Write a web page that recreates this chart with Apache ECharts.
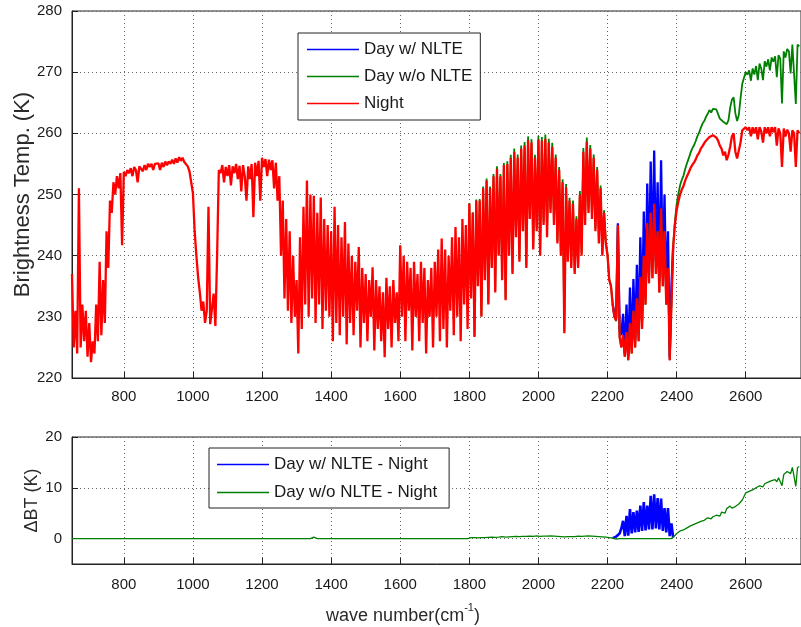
<!DOCTYPE html>
<html>
<head>
<meta charset="utf-8">
<script src="https://cdn.jsdelivr.net/npm/echarts@6/dist/echarts.min.js"></script>
<style>
html,body{margin:0;padding:0;background:#fff;}
#chart{width:801px;height:627px;}
</style>
</head>
<body>
<div id="chart"></div>
<script>
// ---- data ----
const wnStart = 650;     // cm^-1, first sample
const wnStep = 5;        // cm^-1 between samples
// Night brightness temperature (K), 650 .. 2755 cm^-1
const nightBT = [
  237, 225, 231, 224, 251, 225, 232, 226, 231, 223.5,
  229, 222.6, 226, 224, 232, 226, 239, 227, 236, 229,
  244, 238, 249, 247, 252, 250, 253, 251, 253.5, 241.7,
  253.7, 253, 254, 253.5, 254.3, 253, 254.5, 254, 252, 254.6,
  254.5, 253.8, 254.8, 254, 255, 254.5, 255, 254, 255, 254.8,
  255.1, 254, 255.2, 254.5, 255.4, 254.8, 255.4, 255, 255.7, 255,
  255.9, 255.2, 256.1, 255.5, 256, 255.3, 255.2, 254.6, 253.8, 252,
  250.2, 244, 240, 236.5, 234, 231, 232.5, 229, 231, 248,
  228.8, 229, 233.8, 228.5, 240, 254, 253.5, 254.8, 252, 254.5,
  253, 254.8, 251.5, 254.6, 253.5, 255, 252.5, 254.7, 250.5, 254.8,
  253, 249, 254.6, 252.5, 255, 246.3, 255.2, 253, 255.5, 249,
  256, 254.5, 255.8, 253, 255.7, 254, 255.6, 251, 255.2, 249,
  253, 240, 249, 233, 246, 231, 244, 229, 240, 230,
  236, 224, 243, 228, 248, 232, 252.3, 230, 250, 233,
  249.8, 229, 247, 232, 249.5, 228, 246, 231, 245, 230,
  244, 226, 248, 229, 245, 227, 243, 230, 245.5, 225.5,
  242, 229, 240, 227, 239, 231, 241.4, 225, 238, 229,
  237, 226, 236, 230, 238.1, 224.5, 236, 228, 235, 226,
  234, 223.4, 236.4, 228, 235, 225, 236, 229, 234, 226,
  241.7, 230, 240, 226, 239, 231, 238, 224.5, 239, 230,
  237, 226, 239, 229, 238, 224, 236, 230, 238, 225,
  239, 230, 241, 226, 242.8, 228, 241, 225, 240, 231,
  243, 227, 244.7, 230, 243, 226, 246, 232, 245, 228,
  248.5, 233, 247, 226.7, 249, 235, 249, 230, 251, 236,
  252.3, 232, 251, 238, 253, 234, 254.2, 240, 253, 236,
  254.8, 232.7, 255, 240, 256, 237, 257, 243, 256, 239,
  257.5, 244, 258, 238, 258.9, 246, 258.5, 241, 256, 244,
  259, 240, 258.8, 245, 259.1, 243, 258.5, 247, 257.8, 245,
  256, 242, 254, 240, 252, 227.3, 251.2, 239, 249, 238,
  248.5, 237, 246, 238, 250, 240, 257, 245, 258.6, 247,
  257.5, 246, 256, 244, 254, 242, 251, 240, 247, 242,
  240, 236, 235, 232, 230, 229.4, 245, 226.7, 225, 227,
  223.5, 227.5, 222.9, 229, 224, 231, 225, 233, 226, 236.5,
  228, 240, 232, 245.3, 235.5, 247, 236.3, 248.5, 237, 244,
  234, 247.7, 235, 244, 232, 238, 222.9, 232, 241.4, 245,
  247.4, 248.8, 250, 250.8, 251.4, 252.3, 253, 253.6, 254.3, 254.8,
  255.2, 255.7, 256.4, 256.8, 257.5, 257.9, 258.4, 258.8, 259.1, 259.4,
  259.5, 259.7, 259.6, 259.3, 258.8, 258, 257.5, 256.4, 257, 255.6,
  256.5, 257.8, 259.5, 260, 257, 255.9, 256.2, 258.5, 260.5, 260.8,
  261, 260.5, 261, 259.5, 261, 260, 261, 259, 261, 260.3,
  258.5, 261, 260, 261, 259.5, 261, 260.2, 261, 258, 260.8,
  260, 254.5, 260.8, 259.5, 260.6, 260, 257, 260.5, 260, 254.5,
  260.5, 260
];
// Day w/o NLTE minus Night (K): flat part, then sampled from 1800 cm^-1
const deltaFlat = [[650, 0], [1340, 0], [1350, 0.3], [1360, 0], [1795, 0]];
const noNlteStart = 1800;
const dayNoNlteDelta = [
  0.1, 0.2, 0.1, 0.2, 0.2, 0.15, 0.25, 0.2, 0.3, 0.2,
  0.3, 0.25, 0.3, 0.3, 0.35, 0.25, 0.4, 0.3, 0.35, 0.4,
  0.35, 0.3, 0.45, 0.35, 0.5, 0.4, 0.5, 0.45, 0.55, 0.4,
  0.5, 0.45, 0.6, 0.45, 0.6, 0.5, 0.55, 0.45, 0.5, 0.55,
  0.6, 0.45, 0.6, 0.5, 0.7, 0.5, 0.6, 0.55, 0.65, 0.5,
  0.55, 0.45, 0.5, 0.4, 0.5, 0.35, 0.5, 0.4, 0.45, 0.4,
  0.5, 0.4, 0.45, 0.5, 0.55, 0.45, 0.6, 0.5, 0.7, 0.55,
  0.6, 0.5, 0.55, 0.45, 0.5, 0.4, 0.45, 0.35, 0.4, 0.3,
  0.3, 0.2, 0.15, 0.1, 0, -0.1, 0, 0, 0, 0,
  0, 0, 0, 0, 0, 0, 0, 0, 0, 0,
  0, 0, 0, 0, 0, 0, 0, 0, 0, 0,
  0, 0, 0, 0, 0, 0, 0, 0, 0.2, 0.6,
  1.0, 1.3, 1.5, 1.6, 1.7, 1.9, 2.1, 2.3, 2.5, 2.7,
  2.8, 3.0, 3.1, 3.3, 3.4, 3.7, 3.6, 3.9, 4.1, 4.4,
  3.9, 4.3, 4.1, 4.6, 4.8, 4.4, 5.2, 5.5, 5.0, 5.9,
  5.6, 6.4, 6.0, 5.9, 6.3, 6.1, 6.8, 7.2, 7.6, 8.3,
  9.0, 9.1, 9.3, 9.1, 9.6, 9.6, 10.0, 9.7, 10.4, 10.3,
  10.2, 10.8, 10.9, 11.1, 10.8, 11.4, 11.5, 11.6, 11.2, 12.0,
  12.2, 10.4, 12.6, 12.9, 13.2, 13.4, 12.8, 14.0, 14.3, 10.3,
  14.0, 14.2
];
// extra NLTE warming of Day w/ NLTE over Day w/o NLTE (K), 2215 .. 2390 cm^-1
const nlteStart = 2215;
const dayNlteExtra = [
  0, 0.2, 0.5, 0.3, 1.0, 2.0, 3.5, 0.5, 4.5, 0.6,
  5.8, 1.0, 5.2, 1.2, 5.5, 1.3, 6.5, 1.5, 7.2, 1.6,
  6.5, 1.8, 8.4, 1.8, 8.7, 2.0, 8.0, 1.8, 7.9, 1.5,
  6.0, 1.2, 6.0, 0.5, 3.0, 0
];
const xTicks = [800, 1000, 1200, 1400, 1600, 1800, 2000, 2200, 2400, 2600];
const yTicksTop = [220, 230, 240, 250, 260, 270, 280];
const yTicksBottom = [0, 10, 20];
const topNames = ['Day w/ NLTE', 'Day w/o NLTE', 'Night'];
const bottomNames = ['Day w/ NLTE - Night', 'Day w/o NLTE - Night'];
const colBlue = '#0000ff', colGreen = '#008000', colRed = '#ff0000';

// ---- build series tables ----
const idxNight = x => Math.round((x - wnStart) / wnStep);
const idxNo = x => Math.round((x - noNlteStart) / wnStep);
const nightData = nightBT.map((v, i) => [wnStart + i * wnStep, v]);
const dayNoTop = dayNoNlteDelta.map((d, j) => {
  const x = noNlteStart + j * wnStep;
  return [x, +(nightBT[idxNight(x)] + d).toFixed(2)];
});
const dayNlteTop = dayNlteExtra.map((e, k) => {
  const x = nlteStart + k * wnStep;
  return [x, +(nightBT[idxNight(x)] + dayNoNlteDelta[idxNo(x)] + e).toFixed(2)];
});
const dNoBottom = deltaFlat.concat(dayNoNlteDelta.map((d, j) => [noNlteStart + j * wnStep, d]));
const dNlteBottom = dayNlteExtra.map((e, k) => {
  const x = nlteStart + k * wnStep;
  return [x, +(dayNoNlteDelta[idxNo(x)] + e).toFixed(2)];
});

const FONT = "'Liberation Sans', Arial, Helvetica, sans-serif";
const TXT = '#1a1a1a';
const AX = '#222';
const gridLine = { show: true, lineStyle: { color: '#666', width: 1, type: [1, 3] } };
const plain = v => String(v);

function xAxisCfg(gi, withName) {
  const a = {
    gridIndex: gi, type: 'value', min: 650, max: 2760,
    axisLine: { show: true, onZero: false, lineStyle: { color: AX, width: 1 } },
    axisTick: { show: true, inside: true, length: 6, customValues: xTicks, lineStyle: { color: AX } },
    axisLabel: { customValues: xTicks, formatter: plain, fontSize: 15, fontFamily: FONT, color: TXT, margin: gi === 0 ? 11 : 13 },
    splitLine: gridLine
  };
  if (withName) {
    a.name = '{a|wave number(cm}{s|-1}{a|)}';
    a.nameLocation = 'middle';
    a.nameGap = 38;
    a.nameMoveOverlap = false;
    a.nameTextStyle = {
      padding: [0, 67, 0, 0],
      rich: {
        a: { fontSize: 18, fontFamily: FONT, color: '#2a2a2a', lineHeight: 23, verticalAlign: 'bottom' },
        s: { fontSize: 11, fontFamily: FONT, color: '#2a2a2a', lineHeight: 23, verticalAlign: 'top' }
      }
    };
  }
  return a;
}

const lineBase = { type: 'line', showSymbol: false, symbol: 'none', silent: true, animation: false, smooth: false };
const legendBase = {
  orient: 'vertical', icon: 'rect', itemWidth: 52, itemHeight: 1.5,
  backgroundColor: '#fff', borderColor: AX, borderWidth: 1, selectedMode: false,
  textStyle: { fontSize: 17, fontFamily: FONT, color: TXT }
};
const legendItem = (name, color) => ({ name: name, icon: 'rect', itemStyle: { color: color, borderWidth: 0 } });

const option = {
  animation: false,
  backgroundColor: '#fff',
  grid: [
    { left: 72, top: 11, width: 731.5, height: 367, show: true, borderColor: AX, borderWidth: 1, backgroundColor: 'transparent' },
    { left: 72, top: 437, width: 731.5, height: 127, show: true, borderColor: AX, borderWidth: 1, backgroundColor: 'transparent' }
  ],
  xAxis: [xAxisCfg(0, false), xAxisCfg(1, true)],
  yAxis: [
    {
      gridIndex: 0, type: 'value', min: 220, max: 280,
      name: 'Brightness Temp. (K)', nameLocation: 'middle', nameGap: 38, nameMoveOverlap: false,
      nameTextStyle: { fontSize: 22, fontFamily: FONT, color: '#2a2a2a' },
      axisLine: { show: true, lineStyle: { color: AX } },
      axisTick: { show: true, inside: true, length: 6, customValues: yTicksTop, lineStyle: { color: AX } },
      axisLabel: { customValues: yTicksTop, formatter: plain, fontSize: 15, fontFamily: FONT, color: TXT, margin: 10 },
      splitLine: gridLine
    },
    {
      gridIndex: 1, type: 'value', min: -5, max: 20,
      name: 'ΔBT (K)', nameLocation: 'middle', nameGap: 31, nameMoveOverlap: false,
      nameTextStyle: { fontSize: 18, fontFamily: FONT, color: '#2a2a2a' },
      axisLine: { show: true, lineStyle: { color: AX } },
      axisTick: { show: true, inside: true, length: 6, customValues: yTicksBottom, lineStyle: { color: AX } },
      axisLabel: { customValues: yTicksBottom, formatter: plain, fontSize: 15, fontFamily: FONT, color: TXT, margin: 10 },
      splitLine: gridLine
    }
  ],
  legend: [
    Object.assign({}, legendBase, {
      data: [legendItem(topNames[0], colBlue), legendItem(topNames[1], colGreen), legendItem(topNames[2], colRed)],
      left: 298, top: 33, padding: [8, 8, 8, 9], itemGap: 10 }),
    Object.assign({}, legendBase, {
      data: [legendItem(bottomNames[0], colBlue), legendItem(bottomNames[1], colGreen)],
      left: 209, top: 448, padding: [8, 12, 7, 8], itemGap: 11 })
  ],
  series: [
    Object.assign({}, lineBase, { name: topNames[0], xAxisIndex: 0, yAxisIndex: 0, data: dayNlteTop,
      lineStyle: { width: 2.3, color: colBlue, join: 'bevel' }, itemStyle: { color: colBlue } }),
    Object.assign({}, lineBase, { name: topNames[1], xAxisIndex: 0, yAxisIndex: 0, data: dayNoTop,
      lineStyle: { width: 1.8, color: colGreen, join: 'bevel' }, itemStyle: { color: colGreen } }),
    Object.assign({}, lineBase, { name: topNames[2], xAxisIndex: 0, yAxisIndex: 0, data: nightData,
      lineStyle: { width: 2.3, color: colRed, join: 'bevel' }, itemStyle: { color: colRed } }),
    Object.assign({}, lineBase, { name: bottomNames[0], xAxisIndex: 1, yAxisIndex: 1, data: dNlteBottom,
      lineStyle: { width: 2.6, color: colBlue, join: 'bevel' }, itemStyle: { color: colBlue } }),
    Object.assign({}, lineBase, { name: bottomNames[1], xAxisIndex: 1, yAxisIndex: 1, data: dNoBottom,
      lineStyle: { width: 1.3, color: colGreen, join: 'bevel' }, itemStyle: { color: colGreen } })
  ]
};

const chart = echarts.init(document.getElementById('chart'), null, { renderer: 'canvas' });
chart.setOption(option);
</script>
</body>
</html>
